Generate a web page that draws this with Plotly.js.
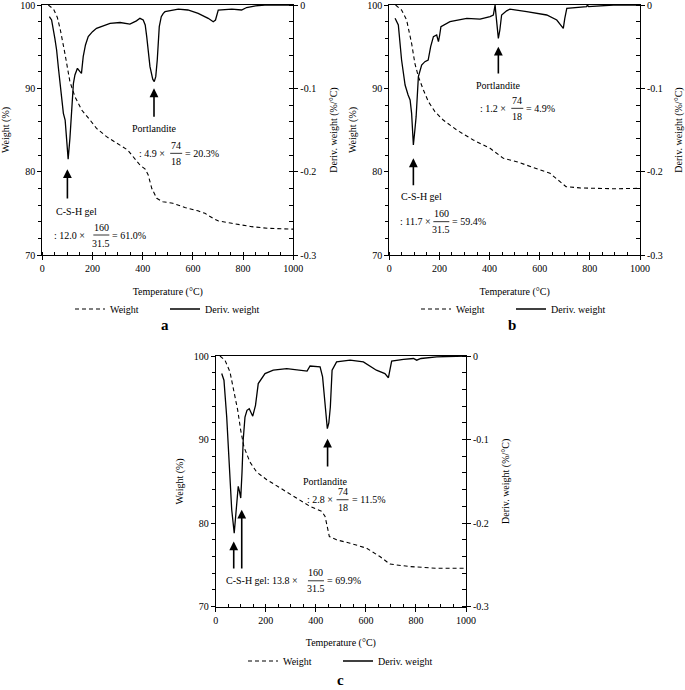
<!DOCTYPE html>
<html>
<head>
<meta charset="utf-8">
<script src="https://cdn.plot.ly/plotly-3.0.1.min.js"></script>
<style>html,body{margin:0;padding:0;background:#fff;}#chart{width:685px;height:690px;}</style>
</head>
<body>
<div id="chart"></div>
<script>
// ---------- Data ----------
// Panel a
const aWeightT = [24,45,60,72,90,110,130,157,190,216,256,300,340,389,410,422,436,456,480,520,568,620,648,680,700,755,834,900,1000];
const aWeight  = [100,99.5,98.5,97,94.2,90.8,89,87.4,86.2,85.2,84.2,83.4,82.6,80.8,80.3,79.6,78,76.8,76.4,76.2,75.7,75.3,75,74.4,74.1,73.8,73.4,73.2,73.1];
const aDerivT  = [28,37,50,57,64,71,78,84,91,97,103,110,117,124,130,140,150,156,163,172,183,200,216,236,270,310,349,375,389,402,410,416,429,440,446,452,458,466,474,482,489,542,580,621,661,681,690,701,755,794,814,850,887,1000];
const aDeriv   = [-0.014,-0.018,-0.04,-0.054,-0.075,-0.094,-0.115,-0.13,-0.138,-0.16,-0.185,-0.16,-0.126,-0.094,-0.084,-0.076,-0.08,-0.082,-0.062,-0.048,-0.038,-0.032,-0.028,-0.026,-0.022,-0.021,-0.023,-0.019,-0.016,-0.018,-0.024,-0.038,-0.074,-0.089,-0.092,-0.086,-0.066,-0.026,-0.014,-0.01,-0.008,-0.005,-0.006,-0.01,-0.016,-0.02,-0.018,-0.006,-0.005,-0.006,-0.003,-0.001,0,0];
// Panel b
const bWeightT = [25,49,69,89,102,116,136,156,182,215,269,335,402,428,455,508,588,641,681,705,760,900,1000];
const bWeight  = [100,99.4,98.2,95.4,93,91.4,89.8,88.4,87.2,86.2,85,83.8,82.8,82.2,81.6,81.2,80.4,79.8,78.8,78.2,78.05,77.95,78];
const bDerivT  = [23,36,49,63,75,83,89,96,102,107,116,129,142,155,165,176,189,196,201,206,242,309,362,402,415,420,422,425,431,435,441,448,468,481,548,628,668,694,700,708,787,790,795,855,894,1000];
const bDeriv   = [-0.016,-0.024,-0.066,-0.096,-0.108,-0.114,-0.13,-0.168,-0.15,-0.134,-0.086,-0.072,-0.068,-0.066,-0.05,-0.038,-0.036,-0.044,-0.036,-0.026,-0.02,-0.016,-0.017,-0.014,-0.012,-0.004,0,-0.01,-0.035,-0.04,-0.03,-0.012,-0.007,-0.005,-0.008,-0.012,-0.018,-0.028,-0.016,-0.004,-0.002,0,-0.002,-0.001,0,0];
// Panel c
const cWeightT = [17,37,57,73,88,100,113,137,164,204,257,323,377,424,437,454,483,537,603,656,696,776,882,1000];
const cWeight  = [100,99.5,98.1,95.9,93.5,91.1,89.1,87.3,86.1,85.2,84.2,83,82,81.4,80.8,78.4,78,77.6,77,76,75.1,74.8,74.6,74.6];
const cDerivT  = [24,33,44,54,64,74,81,90,95,100,105,110,117,125,134,142,148,159,170,197,230,284,330,365,377,417,427,437,446,452,458,465,483,537,590,642,676,690,703,750,790,803,820,883,1000];
const cDeriv   = [-0.021,-0.029,-0.073,-0.133,-0.184,-0.212,-0.184,-0.156,-0.162,-0.17,-0.14,-0.1,-0.073,-0.065,-0.063,-0.068,-0.072,-0.059,-0.033,-0.021,-0.017,-0.015,-0.017,-0.018,-0.012,-0.013,-0.025,-0.061,-0.087,-0.08,-0.061,-0.017,-0.007,-0.005,-0.007,-0.017,-0.021,-0.026,-0.006,-0.004,-0.003,-0.005,-0.003,-0.001,0];

const xTicks = [0,200,400,600,800,1000];
const wTicks = [70,80,90,100];
const dTickVals = [-0.3,-0.2,-0.1,0];
const dTickText = ['-0.3','-0.2','-0.1','0'];
const seriesNames = ['Weight','Deriv. weight'];
const panelLetters = ['a','b','c'];

// ---------- Styling ----------
const FONT = 'Liberation Serif';
const tf = {family: FONT, size: 10, color: '#000'};

function xAxis(domain, anchor) {
  return {domain: domain, anchor: anchor, range: [0,1000], tickvals: xTicks,
    showline: true, linecolor: '#000', linewidth: 1, mirror: true,
    ticks: 'outside', ticklen: 4, tickcolor: '#000', ticklabeloverflow: 'allow',
    minor: {dtick: 50, tick0: 0, ticks: 'inside', ticklen: 3, tickcolor: '#000', showgrid: false},
    showgrid: false, zeroline: false, tickfont: tf,
    title: {text: 'Temperature (°C)', font: tf, standoff: 14}};
}
function yLeft(domain, anchor) {
  return {domain: domain, anchor: anchor, range: [70,100], tickvals: wTicks,
    showline: true, linecolor: '#000', linewidth: 1,
    ticks: 'outside', ticklen: 4, tickcolor: '#000', ticklabeloverflow: 'allow',
    minor: {dtick: 2, tick0: 70, ticks: 'outside', ticklen: 3, tickcolor: '#000', showgrid: false},
    showgrid: false, zeroline: false, tickfont: tf,
    title: {text: 'Weight (%)', font: tf, standoff: 8}};
}
function yRight(overlay, anchor) {
  return {overlaying: overlay, anchor: anchor, side: 'right', range: [-0.3,0],
    tickvals: dTickVals, ticktext: dTickText,
    showline: true, linecolor: '#000', linewidth: 1,
    ticks: 'outside', ticklen: 4, tickcolor: '#000', ticklabeloverflow: 'allow',
    minor: {dtick: 0.02, tick0: 0, ticks: 'inside', ticklen: 4, tickcolor: '#000', showgrid: false},
    showgrid: false, zeroline: false, tickfont: tf,
    title: {text: 'Deriv. weight (%/°C)', font: tf, standoff: 14}};
}

const weightLine = {color: '#000', width: 1.1, dash: '4px,3px'};
const derivLine = {color: '#000', width: 1.3};

const traces = [
  {x: aWeightT, y: aWeight, xaxis: 'x', yaxis: 'y', name: seriesNames[0], mode: 'lines', line: weightLine, legend: 'legend'},
  {x: aDerivT, y: aDeriv, xaxis: 'x', yaxis: 'y2', name: seriesNames[1], mode: 'lines', line: derivLine, legend: 'legend'},
  {x: bWeightT, y: bWeight, xaxis: 'x2', yaxis: 'y3', name: seriesNames[0], mode: 'lines', line: weightLine, legend: 'legend2'},
  {x: bDerivT, y: bDeriv, xaxis: 'x2', yaxis: 'y4', name: seriesNames[1], mode: 'lines', line: derivLine, legend: 'legend2'},
  {x: cWeightT, y: cWeight, xaxis: 'x3', yaxis: 'y5', name: seriesNames[0], mode: 'lines', line: weightLine, legend: 'legend3'},
  {x: cDerivT, y: cDeriv, xaxis: 'x3', yaxis: 'y6', name: seriesNames[1], mode: 'lines', line: derivLine, legend: 'legend3'}
];

// ---------- Annotations ----------
const annotations = [];
const shapes = [];
function txt(xr, yr, x, y, text, xanchor) {
  annotations.push({xref: xr, yref: yr, x: x, y: y, text: text, showarrow: false,
    xanchor: xanchor || 'left', yanchor: 'middle', font: tf});
}
function arrow(xr, yr, x, y, ay) {
  annotations.push({xref: xr, yref: yr, x: x, y: y, ax: x, ay: ay, axref: xr, ayref: yr,
    text: '', showarrow: true, arrowhead: 2, arrowsize: 1.1, arrowwidth: 1.6, arrowcolor: '#000'});
}
function frac(xr, yr, x, y, pre, num, den, post, preW, fracW) {
  txt(xr, yr, x, y, pre, 'left');
  annotations.push({xref: xr, yref: yr, x: x, y: y, xshift: preW + fracW/2, yshift: 8, text: num,
    showarrow: false, xanchor: 'center', yanchor: 'middle', font: tf});
  annotations.push({xref: xr, yref: yr, x: x, y: y, xshift: preW + fracW/2, yshift: -8, text: den,
    showarrow: false, xanchor: 'center', yanchor: 'middle', font: tf});
  shapes.push({type: 'line', xref: xr, yref: yr, xsizemode: 'pixel', ysizemode: 'pixel',
    xanchor: x, yanchor: y, x0: preW, x1: preW + fracW, y0: 0, y1: 0, line: {color: '#000', width: 0.8}});
  annotations.push({xref: xr, yref: yr, x: x, y: y, xshift: preW + fracW + 1, text: post,
    showarrow: false, xanchor: 'left', yanchor: 'middle', font: tf});
}

// Panel a
arrow('x','y', 100, 80.3, 76.6);
txt('x','y', 47, 75.2, 'C-S-H gel');
frac('x','y', 40, 72.4, ': 12.0 × ', '160', '31.5', '= 61.0%', 41, 16);
arrow('x','y', 445, 90.0, 86.4);
txt('x','y', 445, 85.2, 'Portlandite', 'center');
frac('x','y', 378, 82.2, ': 4.9 × ', '74', '18', '= 20.3%', 33, 12);
// Panel b
arrow('x2','y3', 96, 81.6, 78.2);
txt('x2','y3', 39, 77.0, 'C-S-H gel');
frac('x2','y3', 36, 74.0, ': 11.7 × ', '160', '31.5', '= 59.4%', 35, 16);
arrow('x2','y3', 435, 95.0, 91.6);
txt('x2','y3', 435, 90.3, 'Portlandite', 'center');
frac('x2','y3', 355, 87.6, ': 1.2 × ', '74', '18', '= 4.9%', 33, 12);
// Panel c
arrow('x3','y5', 72, 77.8, 74.4);
arrow('x3','y5', 104, 81.6, 74.4);
frac('x3','y5', 33, 73.1, 'C-S-H gel: 13.8 × ', '160', '31.5', '= 69.9%', 84, 16);
arrow('x3','y5', 447, 90.1, 86.6);
txt('x3','y5', 438, 85.0, 'Portlandite', 'center');
frac('x3','y5', 355, 82.8, ': 2.8 × ', '74', '18', '= 11.5%', 32, 12);

// Panel letters
const letterFont = {family: FONT, size: 15, color: '#000', weight: 'bold'};
annotations.push({xref: 'paper', yref: 'paper', x: 165/685, y: 1 - 325/690, text: '<b>' + panelLetters[0] + '</b>', showarrow: false, font: letterFont, xanchor: 'center', yanchor: 'middle'});
annotations.push({xref: 'paper', yref: 'paper', x: 512/685, y: 1 - 325/690, text: '<b>' + panelLetters[1] + '</b>', showarrow: false, font: letterFont, xanchor: 'center', yanchor: 'middle'});
annotations.push({xref: 'paper', yref: 'paper', x: 340/685, y: 1 - 680/690, text: '<b>' + panelLetters[2] + '</b>', showarrow: false, font: letterFont, xanchor: 'center', yanchor: 'middle', borderpad: 0});

function legendCfg(xpx, ypx) {
  return {x: xpx/685, y: 1 - ypx/690, xanchor: 'left', yanchor: 'middle', orientation: 'h',
    font: tf, bgcolor: 'rgba(0,0,0,0)', borderwidth: 0, itemwidth: 30,
    entrywidth: 50, entrywidthmode: 'pixels', tracegroupgap: 0, traceorder: 'normal'};
}

const layout = {
  width: 685, height: 690,
  margin: {l: 0, r: 0, t: 0, b: 0},
  paper_bgcolor: '#fff', plot_bgcolor: '#fff',
  font: tf,
  showlegend: true,
  xaxis: xAxis([42.3/685, 293.3/685], 'y'),
  yaxis: yLeft([1 - 255/690, 1 - 5/690], 'x'),
  yaxis2: yRight('y', 'x'),
  xaxis2: xAxis([389.3/685, 640/685], 'y3'),
  yaxis3: yLeft([1 - 255/690, 1 - 5/690], 'x2'),
  yaxis4: yRight('y3', 'x2'),
  xaxis3: xAxis([215.7/685, 466/685], 'y5'),
  yaxis5: yLeft([1 - 606.7/690, 1 - 356/690], 'x3'),
  yaxis6: yRight('y5', 'x3'),
  legend: legendCfg(70, 309),
  legend2: legendCfg(416, 309),
  legend3: legendCfg(243, 661),
  annotations: annotations,
  shapes: shapes
};

Plotly.newPlot('chart', traces, layout, {staticPlot: true, displayModeBar: false});
</script>
</body>
</html>
